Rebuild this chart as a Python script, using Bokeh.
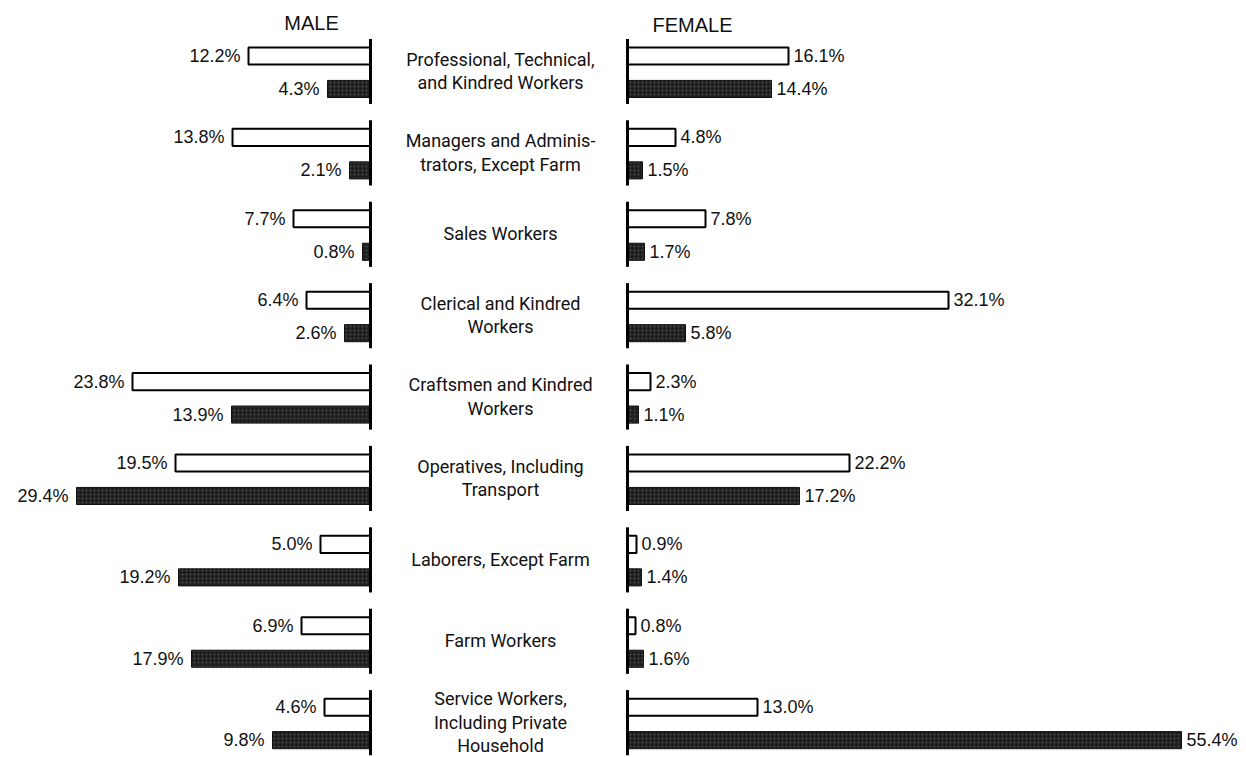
from bokeh.plotting import figure
from bokeh.models import Range1d
from bokeh.core.properties import value
from bokeh.embed import file_html
from bokeh.resources import INLINE

categories = [
    "Professional, Technical,\nand Kindred Workers",
    "Managers and Adminis-\ntrators, Except Farm",
    "Sales Workers",
    "Clerical and Kindred\nWorkers",
    "Craftsmen and Kindred\nWorkers",
    "Operatives, Including\nTransport",
    "Laborers, Except Farm",
    "Farm Workers",
    "Service Workers,\nIncluding Private\nHousehold",
]
male_white = [12.2, 13.8, 7.7, 6.4, 23.8, 19.5, 5.0, 6.9, 4.6]
male_dark = [4.3, 2.1, 0.8, 2.6, 13.9, 29.4, 19.2, 17.9, 9.8]
female_white = [16.1, 4.8, 7.8, 32.1, 2.3, 22.2, 0.9, 0.8, 13.0]
female_dark = [14.4, 1.5, 1.7, 5.8, 1.1, 17.2, 1.4, 1.6, 55.4]
headers = ["MALE", "FEMALE"]

OFF = 25.7      # gap between male axis and female axis (in % units)
DY = 0.405      # vertical offset of dark bar inside a group
BH = 0.21       # bar height

W, H = 1246, 757
PXU = 10.0
x0 = -370 / PXU
p = figure(width=W, height=H, output_backend="svg", toolbar_location=None,
           x_range=Range1d(x0, x0 + W / PXU),
           y_range=Range1d(8.618, -0.682), min_border=0)
p.axis.visible = False
p.grid.visible = False
p.outline_line_color = None
p.background_fill_color = "white"

n = len(categories)
idx = list(range(n))
yw = [i for i in idx]
yd = [i + DY for i in idx]

PCT_FONT = value("Liberation Sans")
CAT_FONT = value("Roboto")

dark_kw = dict(fill_color="#1e1e1e", line_color="#111111", line_width=1,
               hatch_pattern=".", hatch_color="#9a9a9a", hatch_scale=4, hatch_alpha=0.35)
white_kw = dict(fill_color="white", line_color="black", line_width=2)

# male bars
p.hbar(y=yw, left=[-v for v in male_white], right=[0] * n, height=BH, **white_kw)
p.hbar(y=yd, left=[-v for v in male_dark], right=[0] * n, height=BH, **dark_kw)
# female bars
p.hbar(y=yw, left=[OFF] * n, right=[OFF + v for v in female_white], height=BH, **white_kw)
p.hbar(y=yd, left=[OFF] * n, right=[OFF + v for v in female_dark], height=BH, **dark_kw)

# axis segments per group
ys0 = [i - 0.21 for i in idx]
ys1 = [i + 0.59 for i in idx]
p.segment(x0=[0] * n, x1=[0] * n, y0=ys0, y1=ys1, line_color="black", line_width=3)
p.segment(x0=[OFF] * n, x1=[OFF] * n, y0=ys0, y1=ys1, line_color="black", line_width=3)

def fmt(v):
    return f"{v:.1f}%"

pct_kw = dict(text_baseline="middle", text_font=PCT_FONT, text_font_size="18px", text_color="#111")
p.text(x=[-v for v in male_white], y=yw, text=[fmt(v) for v in male_white],
       text_align="right", x_offset=-8, **pct_kw)
p.text(x=[-v for v in male_dark], y=yd, text=[fmt(v) for v in male_dark],
       text_align="right", x_offset=-8, **pct_kw)
p.text(x=[OFF + v for v in female_white], y=yw, text=[fmt(v) for v in female_white],
       text_align="left", x_offset=5, **pct_kw)
p.text(x=[OFF + v for v in female_dark], y=yd, text=[fmt(v) for v in female_dark],
       text_align="left", x_offset=5, **pct_kw)

# category labels
p.text(x=[13.0] * n, y=[i + DY / 2 - 0.02 for i in idx], text=categories,
       text_align="center", text_baseline="middle", text_line_height=1.12,
       text_font=CAT_FONT, text_font_size="18px", text_color="#111")

# headers
p.text(x=[-5.9, OFF + 6.5], y=[-0.40, -0.38], text=headers,
       text_align="center", text_baseline="middle",
       text_font=PCT_FONT, text_font_size="20px", text_color="#111")

open("out.html", "w").write(file_html(p, INLINE))
